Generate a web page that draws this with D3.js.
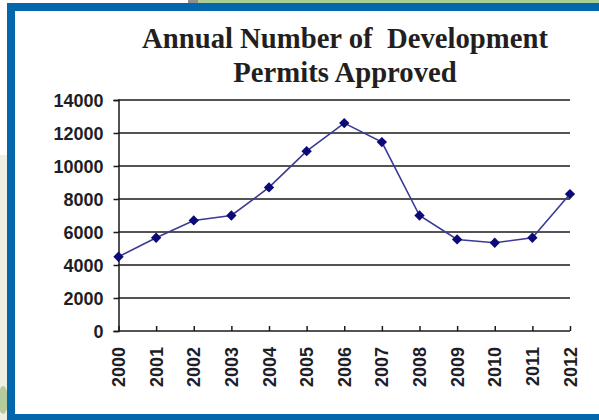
<!DOCTYPE html>
<html>
<head>
<meta charset="utf-8">
<script src="https://cdn.jsdelivr.net/npm/d3@7"></script>
<style>
  html, body { margin: 0; padding: 0; background: #fff; }
  svg { display: block; }
</style>
</head>
<body>
<svg id="chart" width="599" height="420"></svg>
<script>
const years = ["2000","2001","2002","2003","2004","2005","2006","2007","2008","2009","2010","2011","2012"];
const permits = [4500, 5650, 6700, 7000, 8700, 10900, 12600, 11450, 7000, 5550, 5350, 5650, 8300];
const yTicks = [0, 2000, 4000, 6000, 8000, 10000, 12000, 14000];
const titleLines = ["Annual Number of  Development", "Permits Approved"];

const svg = d3.select("#chart");
const W = 599, H = 420;

// background pieces
svg.append("rect").attr("x", 0).attr("y", 0).attr("width", W).attr("height", H).attr("fill", "#ffffff");
svg.append("rect").attr("x", 0).attr("y", 155).attr("width", 8).attr("height", H - 155).attr("fill", "#eef0e5");
svg.append("ellipse").attr("cx", 3).attr("cy", 400).attr("rx", 5).attr("ry", 14).attr("fill", "#9cba7c").attr("opacity", 0.7);
svg.append("rect").attr("x", 188).attr("y", 0).attr("width", 10).attr("height", 4).attr("fill", "#8f8f92");
svg.append("rect").attr("x", 198).attr("y", 0).attr("width", W - 198).attr("height", 4).attr("fill", "#a9cf94");
// blue frame
const blue = "#0467ab";
svg.append("rect").attr("x", 7).attr("y", 3).attr("width", W - 7).attr("height", 8).attr("fill", blue);
svg.append("rect").attr("x", 7).attr("y", 3).attr("width", 8).attr("height", H - 3).attr("fill", blue);
svg.append("rect").attr("x", 7).attr("y", 414).attr("width", W - 7).attr("height", 6).attr("fill", blue);

// title
const title = svg.append("text")
  .attr("text-anchor", "middle")
  .attr("font-family", "'Liberation Serif', 'DejaVu Serif', serif")
  .attr("font-weight", "bold")
  .attr("font-size", 28.7)
  .attr("fill", "#231f20")
  .style("white-space", "pre");
title.append("tspan").attr("x", 345).attr("y", 48).text(titleLines[0]);
title.append("tspan").attr("x", 345).attr("y", 82).text(titleLines[1]);

// scales
const x = d3.scalePoint().domain(years).range([118.5, 570]);
const y = d3.scaleLinear().domain([0, 14000]).range([331, 100]);

const ink = "#1a1a1a";
// grid lines
svg.append("g").selectAll("line").data(yTicks.filter(d => d > 0)).join("line")
  .attr("x1", 118).attr("x2", 570)
  .attr("y1", d => y(d)).attr("y2", d => y(d))
  .attr("stroke", ink).attr("stroke-width", 1.5);

// y axis
const yAxis = svg.append("g").attr("transform", "translate(118.5,0)")
  .call(d3.axisLeft(y).tickValues(yTicks).tickSize(5).tickPadding(10).tickFormat(d3.format("d")));
yAxis.select(".domain").attr("stroke", ink).attr("stroke-width", 1.5);
yAxis.selectAll(".tick line").attr("stroke", ink).attr("stroke-width", 1.5);
yAxis.selectAll(".tick text")
  .attr("font-family", "'Liberation Sans', Arial, sans-serif")
  .attr("font-weight", "bold").attr("font-size", 18).attr("fill", "#1e1e28")
  .attr("dy", "0.36em");

// x axis
const xAxis = svg.append("g").attr("transform", "translate(0,331)")
  .call(d3.axisTop(x).tickSize(5).tickFormat(() => ""));
xAxis.select(".domain").attr("d", "M118,0H570").attr("stroke", ink).attr("stroke-width", 1.5);
xAxis.selectAll(".tick line").attr("stroke", ink).attr("stroke-width", 1.5);

svg.append("g").selectAll("text").data(years).join("text")
  .attr("transform", d => `translate(${x(d) + 6.5},${347}) rotate(-90)`)
  .attr("text-anchor", "end")
  .attr("font-family", "'Liberation Sans', Arial, sans-serif")
  .attr("font-weight", "bold").attr("font-size", 18).attr("fill", "#1e1e28")
  .text(d => d);

// line
const line = d3.line().x((d, i) => x(years[i])).y(d => y(d));
svg.append("path").datum(permits)
  .attr("d", line).attr("fill", "none")
  .attr("stroke", "#3a3a96").attr("stroke-width", 1.6);

// markers
svg.append("g").selectAll("path").data(permits).join("path")
  .attr("d", d3.symbol().type(d3.symbolDiamond2).size(68))
  .attr("transform", (d, i) => `translate(${x(years[i])},${y(d)})`)
  .attr("fill", "#0b0b78");
</script>
</body>
</html>
